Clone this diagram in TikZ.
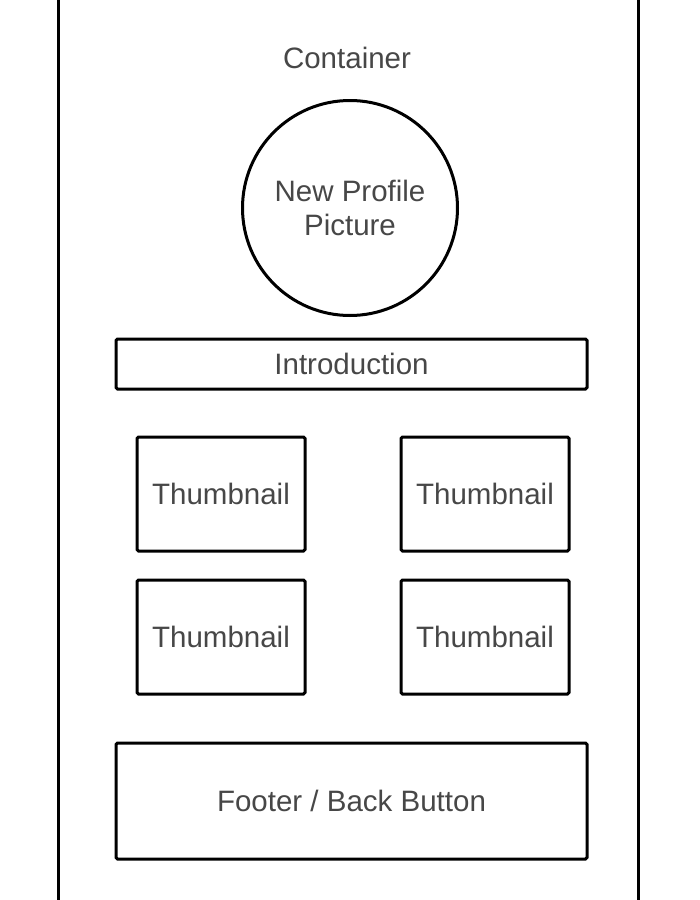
\documentclass[tikz,border=0pt]{standalone}
\usepackage{fontspec}
\setmainfont{Liberation Sans}
\definecolor{txt}{HTML}{474747}
\begin{document}
\begin{tikzpicture}[x=1pt,y=-1pt,
  box/.style={draw=black,line width=3pt,rounded corners=1.5pt,inner sep=0pt,text=txt,font=\fontsize{29.5}{34}\selectfont},
  lbl/.style={text=txt,font=\fontsize{29.5}{34}\selectfont,inner sep=0pt}]
\useasboundingbox (0,0) rectangle (700,900);
\clip (0,0) rectangle (700,900);
\fill[white] (0,0) rectangle (700,900);
\node[box,rounded corners=0pt,minimum width=580pt,minimum height=960pt] (container) at (348,450) {};
\node[lbl] (clabel) at (347,58) {Container};
\node[box,circle,minimum size=215pt,align=center] (pic) at (350,208) {New Profile\\Picture};
\node[box,minimum width=471pt,minimum height=50pt] (intro) at (351.5,364) {Introduction};
\node[box,minimum width=168pt,minimum height=114pt] (t1) at (221,494) {Thumbnail};
\node[box,minimum width=168pt,minimum height=114pt] (t2) at (485,494) {Thumbnail};
\node[box,minimum width=168pt,minimum height=114pt] (t3) at (221,637) {Thumbnail};
\node[box,minimum width=168pt,minimum height=114pt] (t4) at (485,637) {Thumbnail};
\node[box,minimum width=471pt,minimum height=116pt] (footer) at (351.5,801) {Footer / Back Button};
\end{tikzpicture}
\end{document}
